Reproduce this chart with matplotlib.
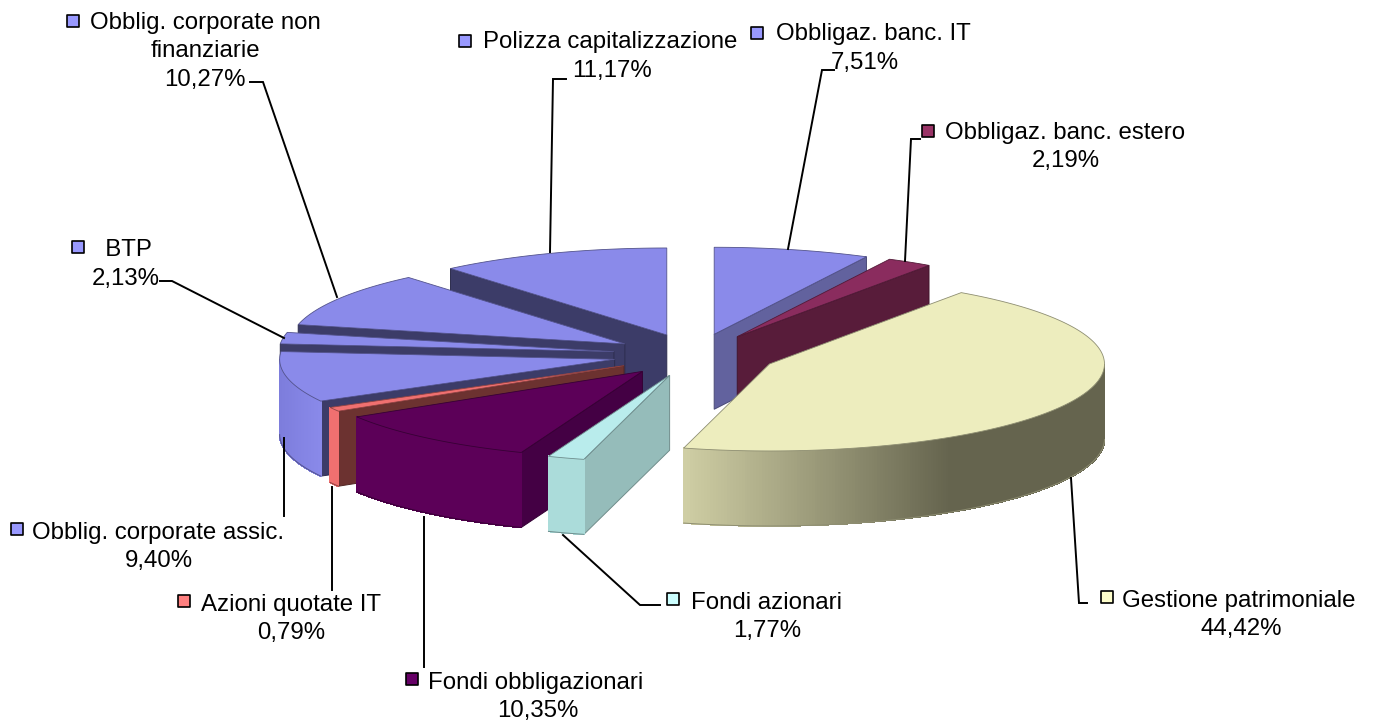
import numpy as np
import matplotlib
matplotlib.use("Agg")
import matplotlib.pyplot as plt
from matplotlib.collections import PolyCollection
from matplotlib.colors import to_rgb

# ---- data (clockwise from 12 o'clock)
labels = ["Obbligaz. banc. IT", "Obbligaz. banc. estero", "Gestione patrimoniale",
          "Fondi azionari", "Fondi obbligazionari", "Azioni quotate IT",
          "Obblig. corporate assic.", "  BTP", "Obblig. corporate non\nfinanziarie",
          "Polizza capitalizzazione"]
values = [7.51, 2.19, 44.42, 1.77, 10.35, 0.79, 9.40, 2.13, 10.27, 11.17]

# ---- styles
key_colors = ["#9999ff", "#993366", "#ffffcc", "#ccffff", "#660066",
              "#ff8080", "#9999ff", "#9999ff", "#9999ff", "#9999ff"]
top_colors = ["#8a8aea", "#8a2c5e", "#ededbe", "#b9ecec", "#5c0058",
              "#f07070", "#8a8aea", "#8a8aea", "#8a8aea", "#8a8aea"]
wall_colors = ["#62629e", "#581c3a", "#65644e", "#95bcba", "#440044",
               "#6c3230", "#3c3c68", "#3c3c68", "#3c3c68", "#3c3c68"]
rim_stops = [
    [(0, "#8a8aea"), (1, "#8a8aea")],
    [(0, "#8a2c5e"), (1, "#8a2c5e")],
    [(0, "#cfcea4"), (0.63, "#65644e"), (1, "#65644e")],
    [(0, "#abdcda"), (1, "#abdcda")],
    [(0, "#5c0058"), (1, "#5c0058")],
    [(0, "#f07070"), (1, "#f07070")],
    [(0, "#7d7ddc"), (1, "#8a8aea")],
    [(0, "#8a8aea"), (1, "#8a8aea")],
    [(0, "#8a8aea"), (1, "#8a8aea")],
    [(0, "#8a8aea"), (1, "#8a8aea")],
]

# ---- pie geometry (pixels)
CX, CY, RX, RY, DEPTH, EXPLODE = 695, 355, 335, 87, 75, 0.245

# ---- label layout (pixels): key position, text left x, text first-line y, percent centre
key_pos = [(757, 33), (928, 131), (1107, 597), (673, 599), (412, 679),
           (184, 601), (17, 529), (78, 247), (73, 21), (465, 41)]
text_pos = [(776, 34), (945, 133), (1122, 601), (691, 603), (428, 683),
            (201, 605), (32, 533), (92, 250), (90, 23), (483, 42)]
pct_pos = [(865, 63), (1066, 161), (1241, 629), (767, 631), (538, 711),
           (291, 633), (159, 561), (126, 279), (205, 80), (612, 71)]
second_line = {8: (205, 51)}
leaders = [
    [(788, 249), (822, 70), (834, 70)],
    [(905, 261), (911, 139), (920, 139)],
    [(1071, 478), (1079, 603), (1087, 603)],
    [(563, 535), (640, 605), (660, 605)],
    [(424, 517), (424, 667)],
    [(332, 487), (332, 590)],
    [(284, 438), (284, 516)],
    [(284, 338), (172, 281), (160, 281)],
    [(337, 297), (263, 82), (250, 82)],
    [(550, 252), (553, 79), (566, 79)],
]

plt.rcParams["font.family"] = ["Liberation Sans", "DejaVu Sans"]
fig = plt.figure(figsize=(13.8, 7.2), dpi=100)
ax = fig.add_axes([0, 0, 1, 1])
ax.set_xlim(0, 1380)
ax.set_ylim(720, 0)
ax.axis("off")


def darker(c, f=0.75):
    return tuple(v * f for v in to_rgb(c))


edges = np.cumsum([0] + values) / sum(values) * 360
order = sorted(range(len(values)),
               key=lambda i: -np.cos(np.radians((edges[i] + edges[i + 1]) / 2)))

for i in order:
    a0, a1 = edges[i], edges[i + 1]
    mid = np.radians((a0 + a1) / 2)
    cx = CX + EXPLODE * RX * np.sin(mid)
    cy = CY - EXPLODE * RY * np.cos(mid)
    th = np.radians(np.arange(a0, a1, 0.5).tolist() + [a1])
    xs = cx + RX * np.sin(th)
    ys = cy - RY * np.cos(th)

    # radial walls that face the viewer
    for ang, visible in ((a0, np.sin(np.radians(a0)) < 0), (a1, np.sin(np.radians(a1)) > 0)):
        if visible and 0 < ang < 360:
            ex = cx + RX * np.sin(np.radians(ang))
            ey = cy - RY * np.cos(np.radians(ang))
            ax.fill([cx, ex, ex, cx], [cy, ey, ey + DEPTH, cy + DEPTH],
                    fc=wall_colors[i], ec=darker(wall_colors[i]), lw=0.7, zorder=2)

    # outer rim, only the front half, shaded along screen x
    front = np.cos(th) <= 0.001
    if front.sum() > 1:
        fx, fy = xs[front], ys[front]
        t = (fx - fx.min()) / max(fx.max() - fx.min(), 1)
        stops = rim_stops[i]
        pos = [s[0] for s in stops]
        rgb = np.array([to_rgb(s[1]) for s in stops])
        quads, cols = [], []
        for k in range(len(fx) - 1):
            quads.append([(fx[k], fy[k]), (fx[k + 1], fy[k + 1]),
                          (fx[k + 1], fy[k + 1] + DEPTH), (fx[k], fy[k] + DEPTH)])
            tm = (t[k] + t[k + 1]) / 2
            cols.append([np.interp(tm, pos, rgb[:, c]) for c in range(3)])
        pc = PolyCollection(quads, facecolors=cols, edgecolors=cols, linewidths=0.6,
                            antialiaseds=False)
        pc.set_zorder(2)
        ax.add_collection(pc)
        ax.plot(fx, fy + DEPTH, color=darker(top_colors[i], 0.6), lw=0.7, zorder=2)

    # top face
    ax.fill(np.r_[cx, xs], np.r_[cy, ys], fc=top_colors[i],
            ec=darker(top_colors[i], 0.6), lw=0.6, zorder=2)

# ---- labels, keys, leaders
FS = 17.3
for i, lab in enumerate(labels):
    pts = np.array(leaders[i])
    ax.plot(pts[:, 0], pts[:, 1], color="black", lw=1.4, zorder=3, solid_joinstyle="miter")
    kx, ky = key_pos[i]
    ax.scatter([kx], [ky], s=75, marker="s", c=key_colors[i], edgecolors="black",
               linewidths=1.2, zorder=4)
    parts = lab.split("\n")
    tx, ty = text_pos[i]
    ax.text(tx, ty, parts[0], fontsize=FS, ha="left", va="center", color="black", zorder=5)
    if i in second_line:
        sx, sy = second_line[i]
        ax.text(sx, sy, parts[1], fontsize=FS, ha="center", va="center", color="black", zorder=5)
    px, py = pct_pos[i]
    ax.text(px, py, f"{values[i]:.2f}".replace(".", ",") + "%", fontsize=FS,
            ha="center", va="center", color="black", zorder=5)

fig.savefig("out.png", dpi=100, facecolor="white")
